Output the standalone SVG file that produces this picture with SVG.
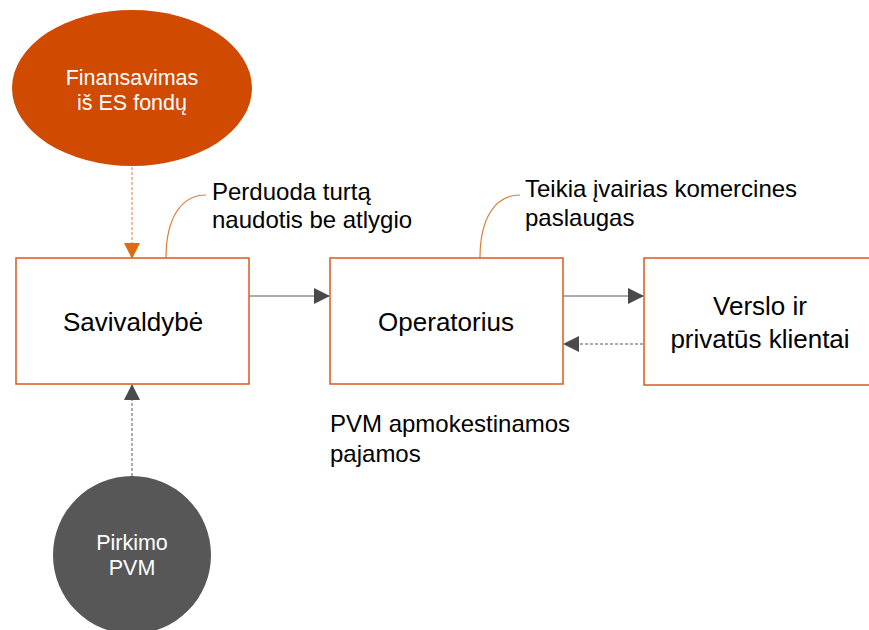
<svg xmlns="http://www.w3.org/2000/svg" width="869" height="630" viewBox="0 0 869 630">
<style>
text{font-family:"Liberation Sans",Arial,sans-serif;}
.box{fill:#fff;stroke:#D85A1C;stroke-width:1.5;}
.lbl{font-size:26px;fill:#000;text-anchor:middle;}
.note{font-size:24px;fill:#000;}
.wht{font-size:21.5px;fill:#fff;text-anchor:middle;}
.call{fill:none;stroke:#E07B39;stroke-width:1.2;}
.solid{stroke:#595959;stroke-width:1;fill:none;}
.dashg{stroke:#595959;stroke-width:1;stroke-dasharray:3,2;fill:none;}
.dasho{stroke:#E07B39;stroke-width:1;stroke-dasharray:3,2;fill:none;}
</style>
<defs>
<marker id="ag2" markerWidth="16" markerHeight="16" refX="15" refY="8" orient="auto" markerUnits="userSpaceOnUse" viewBox="0 0 16 16"><path d="M0,0 L16,8 L0,16 z" fill="#4a4a4a"/></marker>
<marker id="ao2" markerWidth="16" markerHeight="16" refX="15" refY="8" orient="auto" markerUnits="userSpaceOnUse" viewBox="0 0 16 16"><path d="M0,0 L16,8 L0,16 z" fill="#E06A10"/></marker>
</defs>
<g id="connectors">
<line class="dasho" x1="132" y1="167" x2="132" y2="258" marker-end="url(#ao2)"/>
<line class="solid" x1="249" y1="296" x2="329" y2="296" marker-end="url(#ag2)"/>
<line class="solid" x1="563" y1="296" x2="643" y2="296" marker-end="url(#ag2)"/>
<line class="dashg" x1="643" y1="344" x2="564" y2="344" marker-end="url(#ag2)"/>
<line class="dashg" x1="132" y1="476" x2="132" y2="385" marker-end="url(#ag2)"/>
<path class="call" d="M166,258 C166,220 180,195 206,195"/>
<path class="call" d="M480,258 C480,220 494,195 520,195"/>
</g>
<g id="finansavimas">
<ellipse cx="132" cy="88" rx="120" ry="78" fill="#D04A02"/>
<text class="wht" x="132" y="85">Finansavimas</text>
<text class="wht" x="132" y="110">iš ES fondų</text>
</g>
<g id="savivaldybe">
<rect class="box" x="16" y="258" width="233" height="126"/>
<text class="lbl" x="133" y="331">Savivaldybė</text>
</g>
<g id="operatorius">
<rect class="box" x="330" y="258" width="233" height="126"/>
<text class="lbl" x="446" y="331">Operatorius</text>
</g>
<g id="verslo">
<rect class="box" x="644" y="258" width="240" height="127"/>
<text class="lbl" x="760" y="315">Verslo ir</text>
<text class="lbl" x="760" y="348">privatūs klientai</text>
</g>
<g id="pirkimo">
<circle cx="132" cy="555" r="79" fill="#575757"/>
<text class="wht" x="132" y="550">Pirkimo</text>
<text class="wht" x="132" y="575">PVM</text>
</g>
<g id="notes">
<text class="note" x="212" y="200">Perduoda turtą</text>
<text class="note" x="212" y="228">naudotis be atlygio</text>
<text class="note" x="525" y="197">Teikia įvairias komercines</text>
<text class="note" x="525" y="226">paslaugas</text>
<text class="note" x="330" y="432">PVM apmokestinamos</text>
<text class="note" x="330" y="462">pajamos</text>
</g>
</svg>
